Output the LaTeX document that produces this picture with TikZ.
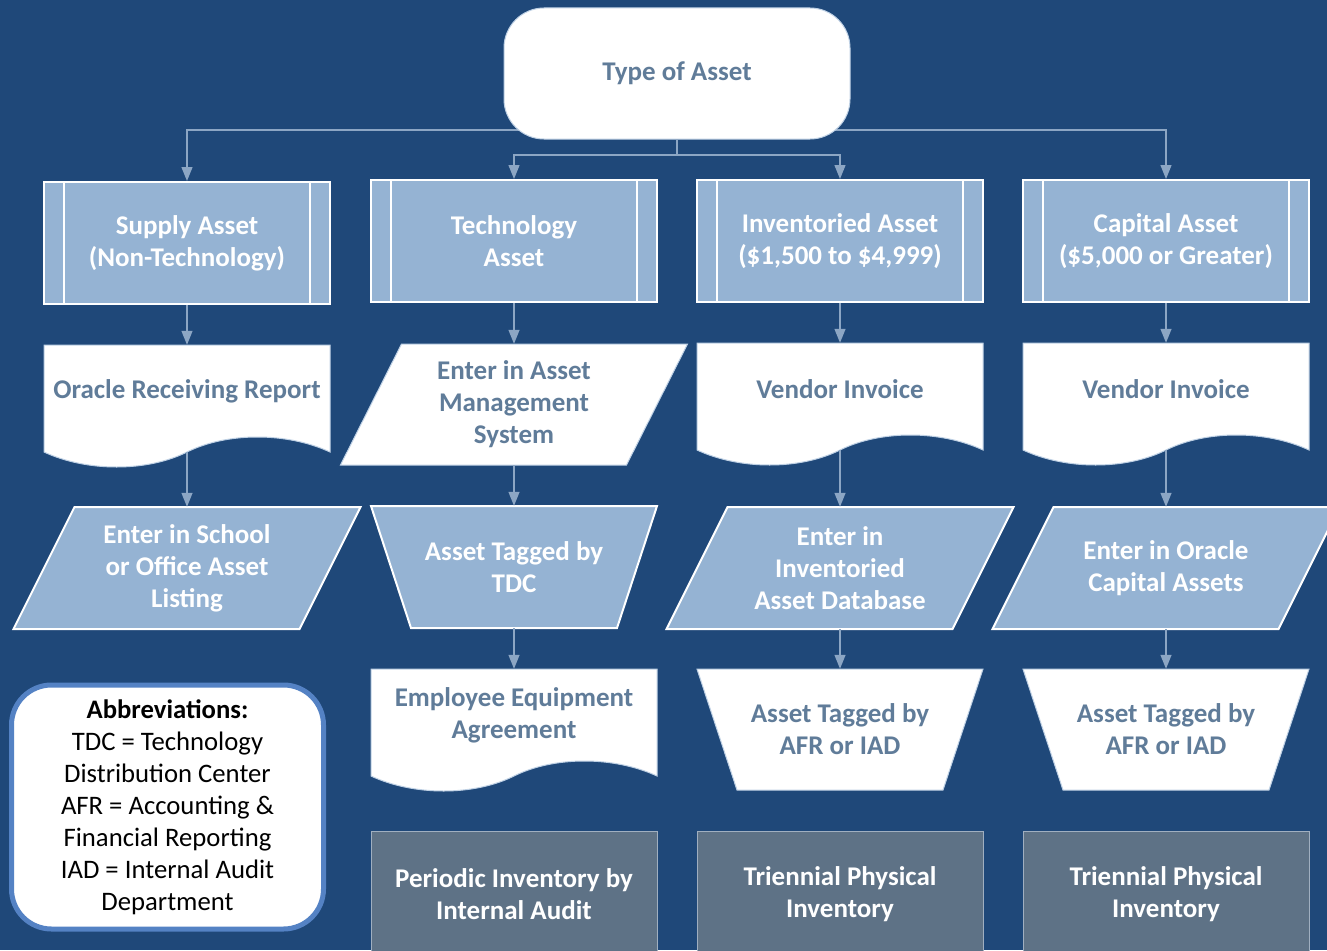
\documentclass[tikz,border=0pt]{standalone}
\usepackage{fontspec}
\setmainfont{Carlito}
\usetikzlibrary{arrows.meta}
\definecolor{bgblue}{RGB}{31,72,121}
\definecolor{lightfill}{RGB}{149,179,211}
\definecolor{greytext}{RGB}{96,124,153}
\definecolor{slatefill}{RGB}{94,114,134}
\definecolor{connblue}{RGB}{140,166,196}
\definecolor{abbrblue}{RGB}{84,130,196}
\definecolor{edgeblue}{RGB}{190,208,228}
\definecolor{slateedge}{RGB}{160,175,192}
\tikzset{
  boxfont/.style={font=\fontsize{27}{32}\selectfont\bfseries},
  frame/.style={rectangle, inner sep=0pt, minimum width=286pt, align=center, boxfont},
  procbox/.style={frame, fill=lightfill, draw=white, line width=2pt, text=white, minimum height=122pt},
  lightshape/.style={fill=lightfill, draw=white, line width=2pt},
  whiteshape/.style={fill=white, draw=edgeblue, line width=1pt},
  slatebox/.style={frame, fill=slatefill, draw=slateedge, line width=1pt, text=white, minimum height=126pt},
  doclabel/.style={boxfont, text=greytext, align=center, yshift=7pt},
  conn/.style={draw=connblue, line width=1.3pt},
  arr/.style={conn, -{Triangle[width=11pt,length=14pt]}},
  innerline/.style={draw=white, line width=2pt},
}
\newcommand\docpath[3]{%
  \path[#3] (#1-143,#2) -- (#1+143,#2) -- (#1+143,#2+107)
    .. controls (#1+100,#2+87) and (#1+40,#2+87) .. (#1,#2+107)
    .. controls (#1-40,#2+127) and (#1-100,#2+127) .. (#1-143,#2+107) -- cycle;}
\newcommand\parapath[4]{%
  \path[#4] (#1-112.5,#2) -- (#1+173.5,#2) -- (#1+112.5,#2+#3) -- (#1-173.5,#2+#3) -- cycle;}
\newcommand\trappath[4]{%
  \path[#4] (#1-143,#2) -- (#1+143,#2) -- (#1+103,#2+#3) -- (#1-103,#2+#3) -- cycle;}
\newcommand\innerlines[1]{%
  \draw[innerline] ([xshift=21pt]#1.north west) -- ([xshift=21pt]#1.south west);
  \draw[innerline] ([xshift=-21pt]#1.north east) -- ([xshift=-21pt]#1.south east);}
\begin{document}
\begin{tikzpicture}[x=1pt,y=-1pt]
\useasboundingbox (0,0) rectangle (1327,950);
\clip (0,0) rectangle (1327,950);
\fill[bgblue] (0,0) rectangle (1327,950);

% Row 1
\node[procbox] (sup1) at (187,243) {Supply Asset\\(Non-Technology)};
\innerlines{sup1}
\node[procbox] (tech1) at (514,241) {Technology\\Asset};
\innerlines{tech1}
\node[procbox] (inv1) at (840,241) {Inventoried Asset\\(\$1,500 to \$4,999)};
\innerlines{inv1}
\node[procbox] (cap1) at (1166,241) {Capital Asset\\(\$5,000 or Greater)};
\innerlines{cap1}

% Top connectors
\coordinate (jtop) at (677,130);
\coordinate (jmid) at (677,155);
\draw[arr] (jtop) -| (sup1);
\draw[arr] (jtop) -| (cap1);
\node[frame, minimum width=346pt, minimum height=131pt, rounded corners=40pt,
      fill=white, draw=edgeblue, line width=1pt, text=greytext] (top) at (677,73.5) {Type of Asset};
\draw[conn] (top.south) -- (jmid);
\draw[arr] (jmid) -| (tech1);
\draw[arr] (jmid) -| (inv1);

% Row 2
\docpath{187}{345}{whiteshape}
\node[frame, minimum height=107pt, label={[doclabel]center:Oracle Receiving Report}] (sup2) at (187,398.5) {};
\parapath{514}{344}{121}{whiteshape}
\node[frame, minimum height=121pt, text=greytext] (tech2) at (514,404.5) {Enter in Asset\\Management\\System};
\docpath{840}{343}{whiteshape}
\node[frame, minimum height=107pt, label={[doclabel]center:Vendor Invoice}] (inv2) at (840,396.5) {};
\docpath{1166}{343}{whiteshape}
\node[frame, minimum height=107pt, label={[doclabel]center:Vendor Invoice}] (cap2) at (1166,396.5) {};

% Row 3
\parapath{187}{507}{122}{lightshape}
\node[frame, minimum height=122pt, text=white] (sup3) at (187,568) {Enter in School\\or Office Asset\\Listing};
\trappath{514}{506}{122}{lightshape}
\node[frame, minimum height=122pt, text=white] (tech3) at (514,567) {Asset Tagged by\\TDC};
\parapath{840}{507}{122}{lightshape}
\node[frame, minimum height=122pt, text=white] (inv3) at (840,568) {Enter in\\Inventoried\\Asset Database};
\parapath{1166}{507}{122}{lightshape}
\node[frame, minimum height=122pt, text=white] (cap3) at (1166,568) {Enter in Oracle\\Capital Assets};

% Row 4
\docpath{514}{669}{whiteshape}
\node[frame, minimum height=107pt, label={[doclabel]center:{Employee Equipment\\Agreement}}] (tech4) at (514,722.5) {};
\trappath{840}{669}{121}{whiteshape}
\node[frame, minimum height=121pt, text=greytext] (inv4) at (840,729.5) {Asset Tagged by\\AFR or IAD};
\trappath{1166}{669}{121}{whiteshape}
\node[frame, minimum height=121pt, text=greytext] (cap4) at (1166,729.5) {Asset Tagged by\\AFR or IAD};

% Row 5
\node[slatebox] (tech5) at (514,894) {Periodic Inventory by\\Internal Audit};
\node[slatebox] (inv5) at (840,894) {Triennial Physical\\Inventory};
\node[slatebox] (cap5) at (1166,894) {Triennial Physical\\Inventory};

% Abbreviations
\node[rectangle, rounded corners=40pt, minimum width=312pt, minimum height=244pt,
      fill=white, draw=abbrblue, line width=5pt, align=center,
      font=\fontsize{26.7}{32}\selectfont, text=black] (abbr) at (167.5,807)
  {\textbf{Abbreviations:}\\TDC = Technology\\Distribution Center\\AFR = Accounting \&\\Financial Reporting\\IAD = Internal Audit\\Department};

% Vertical connectors
\draw[arr] (sup1) -- (sup2);
\draw[arr] (tech1) -- (tech2);
\draw[arr] (inv1) -- (inv2);
\draw[arr] (cap1) -- (cap2);
\draw[arr] (sup2) -- (sup3);
\draw[arr] (tech2) -- (tech3);
\draw[arr] (inv2) -- (inv3);
\draw[arr] (cap2) -- (cap3);
\draw[arr] (tech3) -- (tech4);
\draw[arr] (inv3) -- (inv4);
\draw[arr] (cap3) -- (cap4);
\end{tikzpicture}
\end{document}
